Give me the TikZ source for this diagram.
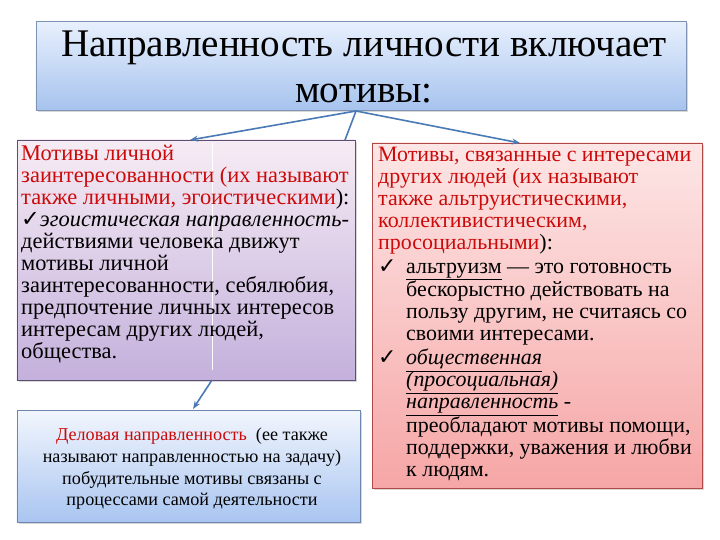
\documentclass[tikz,border=0pt]{standalone}
\usepackage{fontspec}
\setmainfont{Liberation Serif}
\newfontfamily\chkfont{DejaVu Sans}
\usetikzlibrary{arrows.meta,shadows}
\definecolor{redtxt}{HTML}{CC0A0A}
\definecolor{arrowblue}{HTML}{4A7AB5}
\definecolor{titledraw}{HTML}{7F93B5}
\definecolor{titletop}{HTML}{E8F0FD}
\definecolor{titlebot}{HTML}{A6C3EE}
\definecolor{leftdraw}{HTML}{5C4F72}
\definecolor{lefttop}{HTML}{F6ECF4}
\definecolor{leftbot}{HTML}{C4B0DC}
\definecolor{rightdraw}{HTML}{B04848}
\definecolor{righttop}{HTML}{FDE6E6}
\definecolor{rightbot}{HTML}{F6A6A6}
\definecolor{lowdraw}{HTML}{6D86AD}
\definecolor{lowtop}{HTML}{F2F6FD}
\definecolor{lowbot}{HTML}{A9C5F1}
\tikzset{
  box/.style={draw, line width=0.8bp, inner sep=0pt, drop shadow={shadow xshift=2bp, shadow yshift=-2bp, opacity=0.3}},
  titlebox/.style={box, draw=titledraw, top color=titletop, bottom color=titlebot},
  leftbox/.style={box, draw=leftdraw, top color=lefttop, bottom color=leftbot},
  rightbox/.style={box, draw=rightdraw, top color=righttop, bottom color=rightbot},
  lowbox/.style={box, draw=lowdraw, top color=lowtop, bottom color=lowbot},
  txt/.style={inner sep=0pt, align=left, anchor=north west},
  conn/.style={draw=arrowblue, line width=1.6bp},
  arr/.style={conn, -{Stealth[length=8bp,width=6bp]}},
}
\newcommand{\chk}{\makebox[28bp][l]{\chkfont ✓}}
\newcommand{\rd}[1]{\textcolor{redtxt}{#1}}
\begin{document}
\begin{tikzpicture}[x=1bp,y=-1bp]
\useasboundingbox (0,0) rectangle (720,540);
\fill[white] (0,0) rectangle (720,540);
% boxes
\node[titlebox, minimum width=650bp, minimum height=89bp] (title) at (361,66) {};
\node[leftbox, minimum width=338bp, minimum height=240bp] (left) at (186,260) {};
\node[rightbox, minimum width=330bp, minimum height=345bp] (right) at (537,315.5) {};
\node[lowbox, minimum width=343bp, minimum height=112bp] (low) at (188.5,466) {};
\draw[white, line width=1bp] (212,143) -- (212,370);
% title text
\node[inner sep=0pt, align=center, font=\fontsize{39.3}{46}\selectfont] (ttext) at (364,67)
  {Направленность личности включает\\мотивы:};
% left text
\node[txt, font=\fontsize{22.5}{22bp}\selectfont] (ltext) at (21,145) {%
\rd{Мотивы личной}\\
\rd{заинтересованности (их называют}\\
\rd{также личными, эгоистическими}):\\
{\chkfont ✓}\textit{эгоистическая направленность}-\\
действиями человека движут\\
мотивы личной\\
заинтересованности, себялюбия,\\
предпочтение личных интересов\\
интересам других людей,\\
общества.};
% right text
\node[txt, font=\fontsize{22}{22bp}\selectfont] (rtext) at (378,147) {%
\rd{Мотивы, связанные с интересами}\\
\rd{других людей (их называют}\\
\rd{также альтруистическими,}\\
\rd{коллективистическим,}\\
\rd{просоциальными}):\\[2bp]
\chk\underline{альтруизм} — это готовность\\
\hspace*{28bp}бескорыстно действовать на\\
\hspace*{28bp}пользу другим, не считаясь со\\
\hspace*{28bp}своими интересами.\\[2bp]
\chk\underline{\textit{общественная}}\\
\hspace*{28bp}\underline{\textit{(просоциальная)}}\\
\hspace*{28bp}\underline{\textit{направленность}} -\\
\hspace*{28bp}преобладают мотивы помощи,\\
\hspace*{28bp}поддержки, уважения и любви\\
\hspace*{28bp}к людям.};
% lower text
\node[inner sep=0pt, align=center, font=\fontsize{18.2}{21.7}\selectfont] (lowtext) at (192,469) {%
\rd{Деловая направленность}\ \ (ее также\\
называют направленностью на задачу)\\
побудительные мотивы связаны с\\
процессами самой деятельности};
% connectors
\coordinate (apex) at (356,111);
\coordinate (lt) at (190,140);
\coordinate (rt) at (520,143);
\coordinate (mid) at (345,140);
\coordinate (lb) at (212,380);
\coordinate (lowt) at (193,409);
\draw[arr] (apex) -- (lt);
\draw[arr] (apex) -- (rt);
\draw[conn] (apex) -- (mid);
\draw[arr] (lb) -- (lowt);
\end{tikzpicture}
\end{document}
